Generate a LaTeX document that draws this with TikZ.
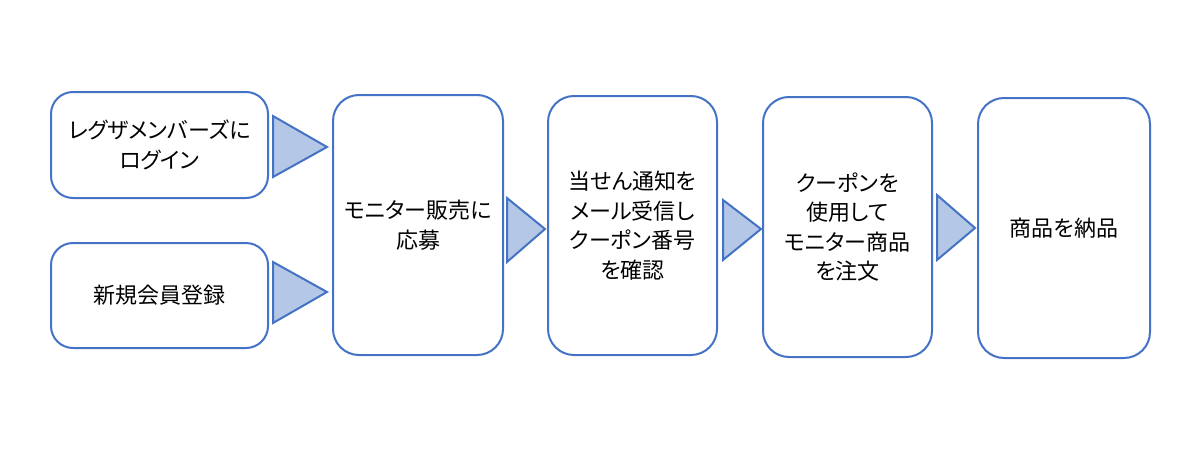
\documentclass[tikz,border=0pt]{standalone}
\usepackage{fontspec}
\setmainfont[RawFeature=+palt]{Noto Sans CJK JP}
\definecolor{boxline}{HTML}{4472C4}
\definecolor{trifill}{HTML}{B4C7E7}
\tikzset{
  stepbox/.style={draw=boxline, line width=2pt, rounded corners=22pt, fill=white,
    align=center, font=\fontsize{22}{29.5}\selectfont, inner sep=0pt, text=black},
  tri/.style={draw=boxline, line width=2pt, fill=trifill, line join=miter}
}
\begin{document}
\begin{tikzpicture}[x=1pt,y=-1pt]
\useasboundingbox (0,0) rectangle (1200,450);
\node[stepbox, minimum width=217pt, minimum height=106pt] (a) at (159.5,145) {レグザメンバーズに\\ログイン};
\node[stepbox, minimum width=217pt, minimum height=105pt] (b) at (159.5,295.5) {新規会員登録};
\node[stepbox, minimum width=170pt, minimum height=260pt, rounded corners=26pt] (c) at (418,225) {モニター販売に\\応募};
\node[stepbox, minimum width=169pt, minimum height=259pt, rounded corners=26pt] (d) at (632.5,225.5) {当せん通知を\\メール受信し\\クーポン番号\\を確認};
\node[stepbox, minimum width=169pt, minimum height=260pt, rounded corners=26pt] (e) at (847.5,227) {クーポンを\\使用して\\モニター商品\\を注文};
\node[stepbox, minimum width=172pt, minimum height=260pt, rounded corners=26pt] (f) at (1064,228) {商品を納品};
% arrow triangles
\draw[tri] (273,116) -- (327,147) -- (273,177) -- cycle;
\draw[tri] (273,262) -- (327,292) -- (273,323) -- cycle;
\draw[tri] (507,198) -- (545,229) -- (507,262) -- cycle;
\draw[tri] (723,200) -- (761,229) -- (723,260) -- cycle;
\draw[tri] (937,195) -- (975,228) -- (937,260) -- cycle;
\end{tikzpicture}
\end{document}
